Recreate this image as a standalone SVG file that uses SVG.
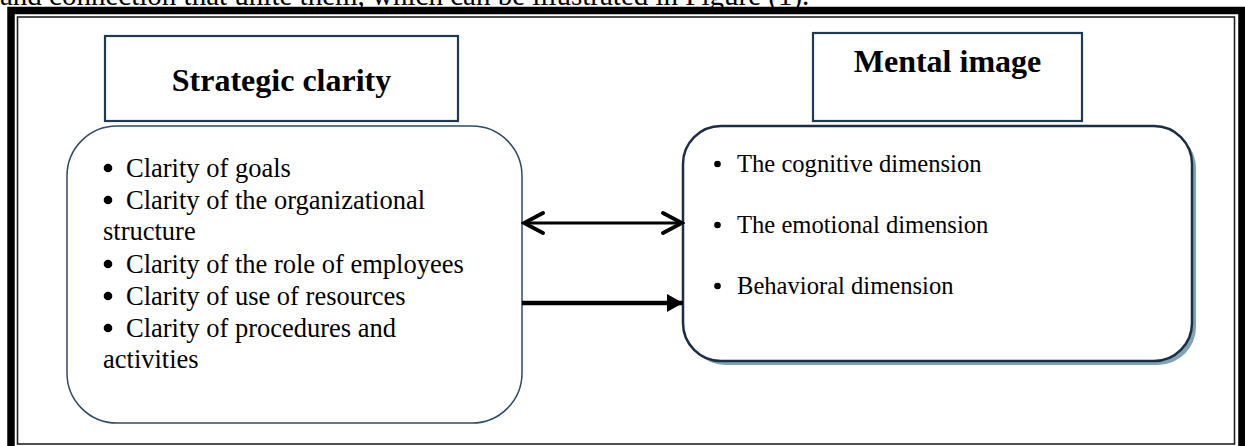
<svg xmlns="http://www.w3.org/2000/svg" width="1245" height="446" viewBox="0 0 1245 446">
<defs>
<style>
.body{font-family:"Liberation Serif","Times New Roman",serif;fill:#000}
.lt{font-size:26.5px}
.rt{font-size:24.6px}
.hd{font-family:"Liberation Serif","Times New Roman",serif;font-size:32px;font-weight:bold;fill:#000}
.hbox{fill:#fff;stroke:#1f3a56;stroke-width:2.2}
</style>
<marker id="chev" viewBox="0 0 24 24" refX="21" refY="12" markerWidth="24" markerHeight="24" markerUnits="userSpaceOnUse" orient="auto-start-reverse">
<path d="M2,2 L21,12 L2,22" fill="none" stroke="#000" stroke-width="3.8" stroke-linecap="round" stroke-linejoin="miter"/>
</marker>
<marker id="tri" viewBox="0 0 16 18" refX="16" refY="9" markerWidth="16" markerHeight="18" markerUnits="userSpaceOnUse" orient="auto">
<path d="M0,0 L16,9 L0,18 Z" fill="#000"/>
</marker>
</defs>
<rect width="1245" height="446" fill="#fff"/>
<text class="body" x="0" y="4.5" style="font-size:29px">and connection that unite them, which can be illustrated in Figure (1).</text>
<g id="frame">
<rect x="11" y="10.5" width="1231" height="450" fill="none" stroke="#000" stroke-width="7.5"/>
<rect x="17.5" y="17" width="1217" height="427" fill="none" stroke="#222" stroke-width="1.6"/>
</g>
<g id="strategic-clarity">
<rect class="hbox" x="105" y="36" width="353" height="85"/>
<text class="hd" x="281.5" y="91" text-anchor="middle">Strategic clarity</text>
</g>
<g id="mental-image">
<rect class="hbox" x="813" y="33" width="269" height="88"/>
<text class="hd" x="947.5" y="72" text-anchor="middle">Mental image</text>
</g>
<g id="strategic-items">
<rect x="67" y="126" width="455" height="297" rx="50" ry="50" fill="#fff" stroke="#2f4a66" stroke-width="1.5"/>
<g fill="#000">
<circle cx="108" cy="168" r="4.3"/>
<circle cx="108" cy="200" r="4.3"/>
<circle cx="108" cy="264" r="4.3"/>
<circle cx="108" cy="296" r="4.3"/>
<circle cx="108" cy="328" r="4.3"/>
</g>
<g class="body lt">
<text x="126" y="177">Clarity of goals</text>
<text x="126" y="209">Clarity of the organizational</text>
<text x="103" y="240">structure</text>
<text x="126" y="273">Clarity of the role of employees</text>
<text x="126" y="305">Clarity of use of resources</text>
<text x="126" y="337">Clarity of procedures and</text>
<text x="103" y="368">activities</text>
</g>
</g>
<g id="mental-items">
<rect x="687" y="130" width="509" height="235" rx="38" ry="38" fill="#7fa3b5"/>
<rect x="683" y="126" width="509" height="235" rx="38" ry="38" fill="#fff" stroke="#1a2f45" stroke-width="2.5"/>
<g class="body rt">
<circle cx="717.5" cy="164" r="3.3" fill="#000"/><text x="737" y="172">The cognitive dimension</text>
<circle cx="717.5" cy="225" r="3.3" fill="#000"/><text x="737" y="233">The emotional dimension</text>
<circle cx="717.5" cy="286" r="3.3" fill="#000"/><text x="737" y="294">Behavioral dimension</text>
</g>
</g>
<g id="connectors">
<line x1="524" y1="223" x2="682" y2="223" stroke="#000" stroke-width="3" marker-start="url(#chev)" marker-end="url(#chev)"/>
<line x1="522" y1="303" x2="683" y2="303" stroke="#000" stroke-width="4.5" marker-end="url(#tri)"/>
</g>
</svg>
